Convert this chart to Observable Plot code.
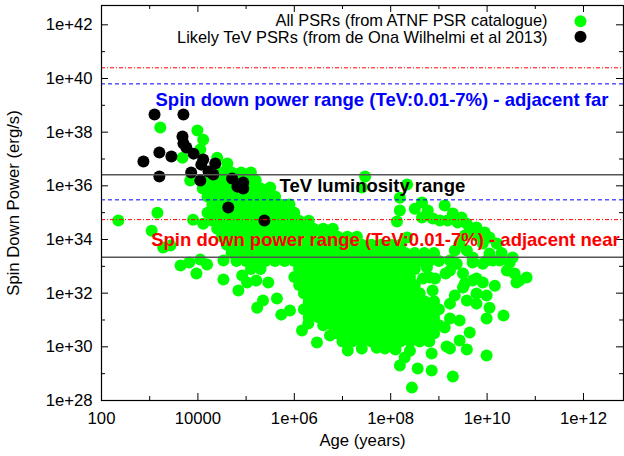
<!DOCTYPE html>
<html><head><meta charset="utf-8">
<script src="https://cdn.jsdelivr.net/npm/d3@7"></script>
<script src="https://cdn.jsdelivr.net/npm/@observablehq/plot@0.6"></script>
<style>
html,body{margin:0;padding:0;background:#fff;}
#chart svg{display:block;}
</style>
</head><body><div id="chart"></div>
<script>
// Axis ticks
const xTicks = [1e2, 1e4, 1e6, 1e8, 1e10, 1e12];
const xTickLabels = ["100", "10000", "1e+06", "1e+08", "1e+10", "1e+12"];
const xMinorTicks = [1e3, 1e5, 1e7, 1e9, 1e11];
const yTicks = [1e28, 1e30, 1e32, 1e34, 1e36, 1e38, 1e40, 1e42];
const yTickLabels = ["1e+28", "1e+30", "1e+32", "1e+34", "1e+36", "1e+38", "1e+40", "1e+42"];
const yMinorTicks = [1e29, 1e31, 1e33, 1e35, 1e37, 1e39, 1e41];

// Reference ranges (erg/s)
const tevLuminosityRange = [2.2e33, 2.6e36];
const spinDownFar = [3.0e35, 6.3e39];
const spinDownNear = [5.5e34, 2.5e40];

// Likely TeV PSRs: log10(age/yr), log10(Edot)
const tevLogAge  = [3.10, 3.70, 3.68, 3.70, 3.76, 2.87, 3.20, 3.45, 3.91, 4.11, 4.07, 4.36, 3.20, 3.86, 4.05, 4.22, 4.32, 4.71, 4.82, 4.94, 4.94, 4.63, 5.38];
const tevLogEdot = [38.66, 38.66, 37.84, 37.58, 37.43, 36.91, 37.24, 37.09, 37.20, 36.98, 36.79, 36.83, 36.35, 36.50, 36.20, 36.53, 36.42, 36.27, 35.97, 36.12, 35.90, 35.19, 34.71];

// ATNF pulsars, dense core read row by row: [log10 Edot, [log10 ages]]
const atnfCoreRows = [
  [36.5, [4.3,4.5,4.7,4.9,5.1]],
  [36.2, [4.2,4.4,4.6,4.8,5.0,5.2]],
  [35.9, [4.1,4.3,4.5,4.7,4.9,5.1,5.3]],
  [35.6, [4.2,4.4,4.6,4.8,5.0,5.2,5.4,5.6]],
  [35.3, [4.3,4.5,4.7,4.9,5.1,5.3,5.5,5.7,5.9]],
  [35.0, [4.2,4.4,4.6,4.8,5.0,5.2,5.4,5.6,5.8,6.0]],
  [34.7, [4.3,4.5,4.7,4.9,5.1,5.3,5.5,5.7,5.9,6.1,6.3]],
  [34.4, [4.4,4.6,4.8,5.0,5.2,5.4,5.6,5.8,6.0,6.2,6.4,6.6,6.8]],
  [34.1, [4.5,4.7,4.9,5.1,5.3,5.5,5.7,5.9,6.1,6.3,6.5,6.7,6.9,7.1,7.3]],
  [33.8, [4.6,4.8,5.0,5.2,5.4,5.6,5.8,6.0,6.2,6.4,6.6,6.8,7.0,7.2,7.4,7.6,7.8,8.0,8.2]],
  [33.5, [4.7,4.9,5.1,5.3,5.5,5.7,5.9,6.1,6.3,6.5,6.7,6.9,7.1,7.3,7.5,7.7,7.9,8.1,8.3,8.5,8.7,8.9]],
  [33.2, [4.8,5.0,5.2,5.4,5.6,5.8,6.0,6.2,6.4,6.6,6.8,7.0,7.2,7.4,7.6,7.8,8.0,8.2,8.4,8.6,8.8,9.0]],
  [32.9, [5.1,5.3,6.1,6.3,6.5,6.7,6.9,7.1,7.3,7.5,7.7,7.9,8.1,8.3,8.5]],
  [32.6, [6.0,6.2,6.4,6.6,6.8,7.0,7.2,7.4,7.6,7.8,8.0,8.2,8.4]],
  [32.3, [6.1,6.3,6.5,6.7,6.9,7.1,7.3,7.5,7.7,7.9,8.1,8.3,8.5]],
  [32.0, [6.2,6.4,6.6,6.8,7.0,7.2,7.4,7.6,7.8,8.0,8.2,8.4,8.6]],
  [31.7, [6.3,6.5,6.7,6.9,7.1,7.3,7.5,7.7,7.9,8.1,8.3,8.5,8.7,8.9]],
  [31.4, [6.2,6.4,6.6,6.8,7.0,7.2,7.4,7.6,7.8,8.0,8.2,8.4,8.6,8.8,9.0]],
  [31.1, [6.3,6.5,6.7,6.9,7.1,7.3,7.5,7.7,7.9,8.1,8.3,8.5,8.7,8.9]],
  [30.8, [6.6,6.8,7.0,7.2,7.4,7.6,7.8,8.0,8.2,8.4,8.6,8.8,9.0]],
  [30.5, [6.9,7.1,7.3,7.5,7.7,7.9,8.1,8.3,8.5,8.7,8.9]],
  [30.2, [7.0,7.2,7.4,7.6,7.8,8.0,8.2,8.4,8.6,8.8]]
];

// ATNF pulsars, scattered young/left side: [log10 age, log10 Edot]
const atnfLeft = [
  [3.22,38.17],[3.99,38.06],[4.11,37.72],[4.05,37.35],[3.68,37.05],[4.40,37.05],[4.61,36.83],
  [3.84,36.20],[3.16,35.00],[2.35,34.71],[3.04,34.33],[3.28,33.70],[3.43,33.78],[3.64,33.03],
  [3.82,33.14],[3.97,32.73],[4.05,33.25],[4.19,33.07],[3.90,34.74],[4.11,34.59],[4.53,33.22],
  [4.53,32.51],[4.92,32.66],[4.84,32.10],[5.02,32.40],[5.23,31.46],[5.35,31.73],[5.64,31.80],
  [5.73,31.20],[5.91,31.35],[6.16,30.61],[6.47,30.16],[5.21,32.47],[5.46,32.40],[6.29,30.87],
  [6.74,30.42],[7.11,29.86],[7.40,29.94],[7.71,29.97],[7.88,29.94],[5.50,35.94],[7.47,36.35],
  [7.40,35.94],[8.34,36.05]
];

// ATNF pulsars, old/right side: [log10 age, log10 Edot]
const atnfRight = [
  [8.19,35.56],[8.19,35.08],[8.13,34.67],[8.50,35.15],[8.65,35.38],[8.77,35.08],[8.65,34.82],
  [8.87,34.78],[9.02,34.71],[9.12,35.27],[9.29,34.97],[9.39,34.63],[9.47,34.82],[9.58,34.59],
  [9.64,34.41],[9.78,34.45],[9.78,34.15],[9.95,34.26],[9.91,33.85],[10.05,34.07],[10.05,33.48],
  [10.20,33.85],[10.26,33.22],[10.47,33.14],[10.53,33.33],[9.43,33.85],[9.58,33.59],[9.70,33.33],
  [9.99,33.22],[8.34,34.07],[8.75,32.96],[9.23,33.22],[9.37,33.10],[9.70,33.14],[9.91,33.10],
  [10.12,33.22],[8.67,32.55],[8.81,32.58],[9.23,32.84],[9.50,32.73],[9.54,32.36],[9.70,32.47],
  [9.91,32.40],[10.16,32.28],[10.41,32.84],[10.67,32.47],[10.82,32.58],[10.61,32.40],[10.57,32.73],
  [9.78,31.99],[9.99,31.91],[9.14,32.73],[8.92,32.55],[9.78,32.55],[9.50,32.21],[9.33,31.91],
  [9.23,31.61],[9.58,31.73],[9.78,31.61],[10.05,31.46],[9.99,31.06],[9.64,30.53],[9.43,30.98],
  [9.23,31.06],[9.12,30.72],[9.43,30.24],[9.23,29.94],[9.58,29.90],[9.99,29.68],[8.85,29.75],
  [8.56,29.19],[8.85,29.12],[8.19,29.30],[8.29,29.60],[9.29,28.89],[8.44,28.48],[10.34,31.17],
  [9.16,30.01],[8.10,29.90],[8.40,29.85],[9.18,34.71],[9.54,34.15],[9.33,33.59],[10.30,33.50],
  [8.87,32.10]
];

// Build tables
const atnf = [
  ...atnfCoreRows.flatMap(([e, ages]) => ages.map(a => [a, e])),
  ...atnfLeft,
  ...atnfRight
].map(([a, e]) => ({age: 10 ** a, edot: 10 ** e}));
const tev = tevLogAge.map((a, i) => ({age: 10 ** a, edot: 10 ** tevLogEdot[i]}));

const W = 624, H = 456, mL = 101, mR = 1, mT = 5, mB = 56;
const frameW = W - mL - mR, frameH = H - mT - mB;
const font = "'Liberation Sans', Arial, Helvetica, sans-serif";
const fs = 16.7, fsLegend = 16.4, fsBold = 18.5;
const mid = "middle";

const chart = Plot.plot({
  width: W, height: H,
  marginLeft: mL, marginRight: mR, marginTop: mT, marginBottom: mB,
  style: {fontFamily: font, background: "#fff", color: "#000", overflow: "visible"},
  x: {type: "log", domain: [100, 10 ** 12.83], axis: null},
  y: {type: "log", domain: [1e28, 10 ** 42.72], axis: null},
  marks: [
    Plot.dot(atnf, {x: "age", y: "edot", r: 6, fill: "#00ff00"}),
    Plot.dot(tev, {x: "age", y: "edot", r: 6, fill: "#000"}),
    Plot.ruleY(spinDownNear, {stroke: "#ff0000", strokeWidth: 1, strokeDasharray: "4,2,1,2"}),
    Plot.ruleY(spinDownFar, {stroke: "#0000ff", strokeWidth: 1, strokeDasharray: "4,3"}),
    Plot.ruleY(tevLuminosityRange, {stroke: "#555", strokeWidth: 1.5}),
    // inward ticks
    Plot.ruleX(xTicks, {insetTop: frameH - 7}),
    Plot.ruleX(xTicks, {insetBottom: frameH - 7}),
    Plot.ruleX(xMinorTicks, {insetTop: frameH - 4}),
    Plot.ruleX(xMinorTicks, {insetBottom: frameH - 4}),
    Plot.ruleY(yTicks, {insetRight: frameW - 7}),
    Plot.ruleY(yTicks, {insetLeft: frameW - 7}),
    Plot.ruleY(yMinorTicks, {insetRight: frameW - 4}),
    Plot.ruleY(yMinorTicks, {insetLeft: frameW - 4}),
    Plot.frame({stroke: "#000", strokeWidth: 1.2}),
    // tick labels
    Plot.text(xTicks, {x: d => d, text: (d, i) => xTickLabels[i], frameAnchor: "bottom", dy: 17.7, lineAnchor: mid, textAnchor: "middle", fontSize: fs}),
    Plot.text(yTicks, {y: d => d, text: (d, i) => yTickLabels[i], frameAnchor: "left", dx: -9, lineAnchor: mid, textAnchor: "end", fontSize: fs}),
    // axis titles
    Plot.text(["Age (years)"], {text: d => d, frameAnchor: "bottom", dy: 40, lineAnchor: mid, textAnchor: "middle", fontSize: fs}),
    Plot.text(["Spin Down Power (erg/s)"], {text: d => d, frameAnchor: "left", dx: -88, rotate: -90, lineAnchor: mid, textAnchor: "middle", fontSize: fs}),
    // annotations
    Plot.text(["Spin down power range (TeV:0.01-7%) - adjacent far"], {text: d => d, frameAnchor: "top-left", dx: 54, dy: 95, lineAnchor: mid, textAnchor: "start", fill: "#0000ff", fontWeight: "bold", fontSize: fsBold}),
    Plot.text(["TeV luminosity range"], {text: d => d, frameAnchor: "top-left", dx: 178, dy: 181, lineAnchor: mid, textAnchor: "start", fill: "#000", fontWeight: "bold", fontSize: fsBold}),
    Plot.text(["Spin down power range (TeV:0.01-7%) - adjacent near"], {text: d => d, frameAnchor: "top-left", dx: 49.7, dy: 235, lineAnchor: mid, textAnchor: "start", fill: "#ff0000", fontWeight: "bold", fontSize: fsBold}),
    // legend
    Plot.text(["All PSRs (from ATNF PSR catalogue)"], {text: d => d, frameAnchor: "top-right", dx: -76, dy: 15.2, lineAnchor: mid, textAnchor: "end", fontSize: fsLegend}),
    Plot.text(["Likely TeV PSRs (from de Ona Wilhelmi et al 2013)"], {text: d => d, frameAnchor: "top-right", dx: -76, dy: 31.8, lineAnchor: mid, textAnchor: "end", fontSize: fsLegend}),
    Plot.dot([0], {frameAnchor: "top-right", dx: -43, dy: 15.7, r: 6, fill: "#00ff00"}),
    Plot.dot([0], {frameAnchor: "top-right", dx: -43, dy: 31.2, r: 6, fill: "#000"})
  ]
});
document.getElementById("chart").appendChild(chart);
</script>
</body></html>
